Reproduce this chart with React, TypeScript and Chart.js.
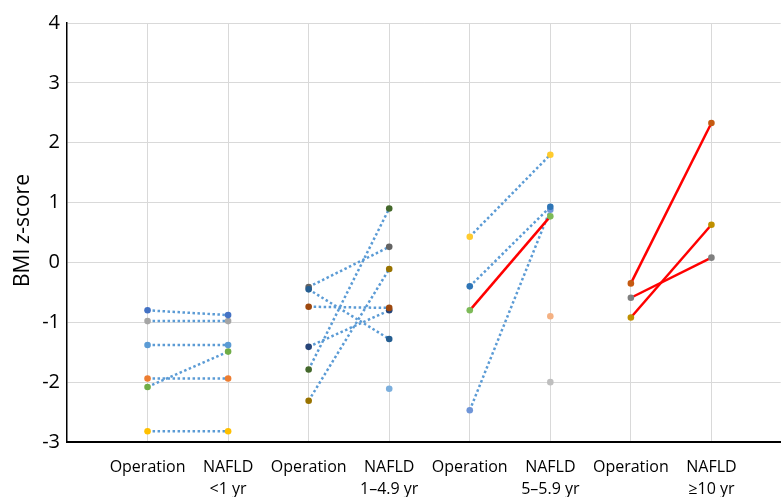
import React, { useEffect, useRef } from "react";
import { Chart, registerables } from "chart.js";

Chart.register(...registerables);

// Category tick labels (x positions 1..8)
const categories: (string | string[])[] = [
  "Operation",
  ["NAFLD", "<1 yr"],
  "Operation",
  ["NAFLD", "1–4.9 yr"],
  "Operation",
  ["NAFLD", "5–5.9 yr"],
  "Operation",
  ["NAFLD", "≥10 yr"],
];

const yTicks = [-3, -2, -1, 0, 1, 2, 3, 4];

// Group 1: NAFLD <1 yr
const group1Operation = [-0.8, -0.98, -1.38, -2.08, -1.94, -2.82];
const group1Nafld = [-0.88, -0.98, -1.38, -1.49, -1.94, -2.82];
const group1Colors = ["#4472C4", "#A5A5A5", "#5B9BD5", "#70AD47", "#ED7D31", "#FFC000"];
const group1Red = [false, false, false, false, false, false];

// Group 2: NAFLD 1–4.9 yr
const group2Operation = [-0.45, -0.41, -0.74, -1.41, -1.79, -2.31, null];
const group2Nafld = [-1.28, 0.26, -0.76, -0.8, 0.9, -0.11, -2.11];
const group2Colors = ["#255E91", "#636363", "#9E480E", "#264478", "#43682B", "#997300", "#7CAFDD"];
const group2Red = [false, false, false, false, false, false, false];

// Group 3: NAFLD 5–5.9 yr
const group3Operation = [0.43, -0.4, -0.8, -2.47, null, null];
const group3Nafld = [1.8, 0.93, 0.77, 0.88, -0.9, -2.0];
const group3Colors = ["#FFCB2E", "#2E75B6", "#7DBA58", "#6F95D8", "#F4B183", "#BFBFBF"];
const group3Red = [false, false, true, false, false, false];

// Group 4: NAFLD ≥10 yr
const group4Operation = [-0.35, -0.59, -0.92];
const group4Nafld = [2.33, 0.08, 0.63];
const group4Colors = ["#C55A11", "#7F7F7F", "#BF9000"];
const group4Red = [true, true, true];

const groups = [
  { op: group1Operation, naf: group1Nafld, colors: group1Colors, red: group1Red },
  { op: group2Operation, naf: group2Nafld, colors: group2Colors, red: group2Red },
  { op: group3Operation, naf: group3Nafld, colors: group3Colors, red: group3Red },
  { op: group4Operation, naf: group4Nafld, colors: group4Colors, red: group4Red },
];

const FONT = "'Open Sans', 'Noto Sans', sans-serif";

const titlePlugin = {
  id: "yTitle",
  afterDraw(chart: any) {
    const ctx = chart.ctx;
    const area = chart.chartArea;
    const cy = (area.top + area.bottom) / 2 - 2;
    const cx = 23;
    const parts = [
      { t: "BMI ", f: `21px ${FONT}` },
      { t: "z", f: `italic 21px ${FONT}` },
      { t: "-score", f: `21px ${FONT}` },
    ];
    ctx.save();
    let total = 0;
    const widths = parts.map((p) => {
      ctx.font = p.f;
      const w = ctx.measureText(p.t).width;
      total += w;
      return w;
    });
    ctx.translate(cx, cy);
    ctx.rotate(-Math.PI / 2);
    ctx.fillStyle = "#000";
    ctx.textBaseline = "middle";
    ctx.textAlign = "left";
    let x = -total / 2;
    parts.forEach((p, i) => {
      ctx.font = p.f;
      ctx.fillText(p.t, x, 0);
      x += widths[i];
    });
    ctx.restore();
  },
};

export default function App() {
  const ref = useRef<HTMLCanvasElement | null>(null);

  useEffect(() => {
    if (!ref.current) return;
    const datasets: any[] = [];
    groups.forEach((g, gi) => {
      const opX = gi * 2 + 1;
      const nafX = gi * 2 + 2;
      g.naf.forEach((nv, i) => {
        const ov = g.op[i];
        const data: { x: number; y: number }[] = [];
        if (ov !== null && ov !== undefined) data.push({ x: opX, y: ov });
        if (nv !== null && nv !== undefined) data.push({ x: nafX, y: nv });
        const red = g.red[i];
        datasets.push({
          data,
          showLine: true,
          borderColor: red ? "#FF0000" : "#5B9BD5",
          borderWidth: 2.5,
          borderDash: red ? [] : [2.5, 2.5],
          pointRadius: 3.3,
          pointHoverRadius: 3.3,
          pointBackgroundColor: g.colors[i],
          pointBorderColor: g.colors[i],
          pointBorderWidth: 0,
          clip: false,
          order: red ? 0 : 1,
        });
      });
    });

    const chart = new Chart(ref.current, {
      type: "scatter",
      data: { datasets },
      plugins: [titlePlugin],
      options: {
        animation: false,
        responsive: false,
        maintainAspectRatio: false,
        layout: { padding: { top: 23, right: 0, left: 0, bottom: 0 } },
        plugins: { legend: { display: false }, tooltip: { enabled: false } },
        scales: {
          x: {
            type: "linear",
            min: 0,
            max: 8.86,
            afterBuildTicks: (scale: any) => {
              scale.ticks = categories.map((_, i) => ({ value: i + 1 }));
            },
            afterFit: (scale: any) => {
              scale.height = 55;
            },
            grid: { color: "#D9D9D9", lineWidth: 1, drawTicks: false },
            border: { color: "#000", width: 2 },
            ticks: {
              autoSkip: false,
              maxRotation: 0,
              padding: 14,
              color: "#000",
              font: { family: FONT, size: 16, lineHeight: 1.4 },
              callback: (v: any) => categories[Math.round(v) - 1] ?? "",
            },
          },
          y: {
            type: "linear",
            min: yTicks[0],
            max: yTicks[yTicks.length - 1],
            afterBuildTicks: (scale: any) => {
              scale.ticks = yTicks.map((v) => ({ value: v }));
            },
            afterFit: (scale: any) => {
              scale.width = 67;
            },
            grid: { color: "#D9D9D9", lineWidth: 1, drawTicks: false },
            border: { color: "#000", width: 1.5 },
            ticks: {
              padding: 7,
              color: "#000",
              font: { family: FONT, size: 20 },
              callback: (v: any) => String(v),
            },
          },
        },
      },
    });
    return () => chart.destroy();
  }, []);

  return (
    <div style={{ position: "fixed", left: 0, top: 0, width: 784, height: 497, background: "#fff" }}>
      <canvas ref={ref} width={784} height={497} style={{ width: 784, height: 497, display: "block" }} />
    </div>
  );
}
